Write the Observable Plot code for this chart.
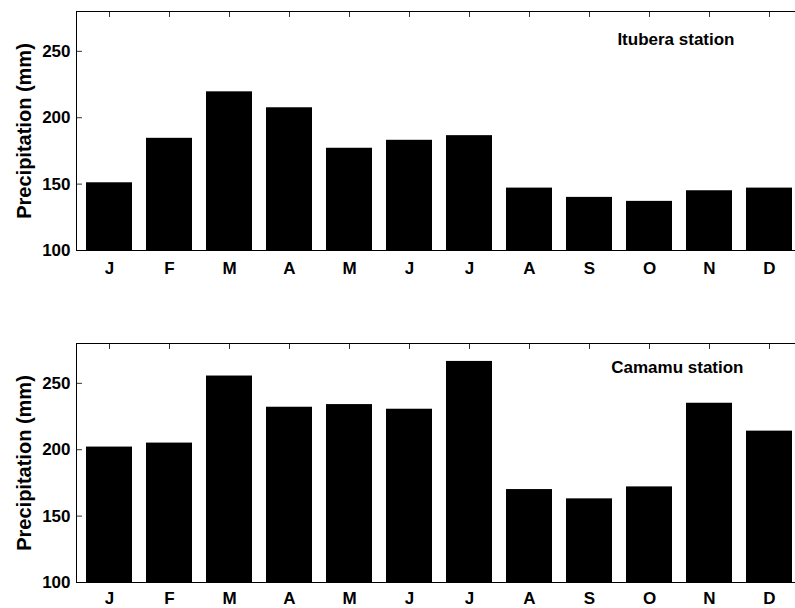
<!DOCTYPE html>
<html>
<head>
<meta charset="utf-8">
<script src="https://cdn.jsdelivr.net/npm/d3@7"></script>
<script src="https://cdn.jsdelivr.net/npm/@observablehq/plot@0.6"></script>
<style>
html, body { margin: 0; padding: 0; background: #fff; overflow: hidden; }
#chart { width: 795px; height: 608px; overflow: hidden; }
#chart svg { display: block; overflow: hidden; }
</style>
</head>
<body>
<div id="chart"></div>
<script>
// ---- data ----
const months = ["J", "F", "M", "A", "M", "J", "J", "A", "S", "O", "N", "D"];
const itubera = [151, 184.5, 219.5, 207.5, 177, 183, 186.5, 147, 140, 137, 145, 147];
const camamu = [202, 205, 255.5, 232, 234, 230.5, 266.5, 170, 163, 172, 235, 214];
const yTicks = [100, 150, 200, 250];
const yDomain = [100, 280];
const stationNames = ["Itubera station", "Camamu station"];
const yLabel = "Precipitation (mm)";

const font = "'Liberation Sans', Arial, Helvetica, sans-serif";

function panel(values, station, o) {
  const data = values.map((v, i) => ({i, v}));
  const idx = d3.range(months.length);
  return Plot.plot({
    width: 795,
    height: o.height,
    marginLeft: 76,
    marginRight: -6,
    marginTop: o.mt,
    marginBottom: o.mb,
    style: {fontFamily: font, fontWeight: "bold", fontSize: "17px", color: "#000", background: "#fff", overflow: "hidden"},
    x: {type: "band", domain: idx, range: [77.2, 800.5], paddingInner: 0.232, paddingOuter: 0.116, label: null},
    y: {domain: yDomain, label: null},
    marks: [
      Plot.barY(data, {x: "i", y1: yDomain[0], y2: "v", fill: "#000"}),
      Plot.frame({stroke: "#000", strokeWidth: 1}),
      // inward tick marks
      Plot.axisY({anchor: "left", ticks: yTicks, tickSize: 6, tickPadding: 0, dx: 6, tickFormat: () => "", strokeWidth: 0.8}),
      Plot.axisY({anchor: "right", ticks: yTicks, tickSize: 6, tickPadding: 0, dx: -6, tickFormat: () => "", strokeWidth: 0.8}),
      Plot.axisX({anchor: "top", tickSize: 5, tickPadding: 0, dy: 5, tickFormat: () => "", strokeWidth: 0.8}),
      // y tick labels (left)
      Plot.text(yTicks, {y: d => d, frameAnchor: "left", textAnchor: "end", dx: -6, text: d => String(d), fontSize: 17, fontWeight: "bold", fill: "#000"}),
      // x tick labels
      Plot.text(idx, {x: d => d, frameAnchor: "bottom", lineAnchor: "top", dy: o.xpad, text: i => months[i], fontSize: 17, fontWeight: "bold", fill: "#000"}),
      // y label
      Plot.text([yLabel], {frameAnchor: "left", textAnchor: "middle", rotate: -90, dx: -52, fontSize: 20, fontWeight: "bold", fill: "#000"}),
      // station name
      Plot.text([station], {frameAnchor: "top-right", textAnchor: "end", lineAnchor: "top", dx: o.tdx, dy: o.tdy, fontSize: 17, fontWeight: "bold", fill: "#000"})
    ]
  });
}

const chart = document.getElementById("chart");
chart.append(panel(itubera, stationNames[0], {height: 290, mt: 11, mb: 40, xpad: 11, tdx: -67, tdy: 21}));
chart.append(panel(camamu, stationNames[1], {height: 318, mt: 53, mb: 26, xpad: 9, tdx: -58, tdy: 17}));
</script>
</body>
</html>
